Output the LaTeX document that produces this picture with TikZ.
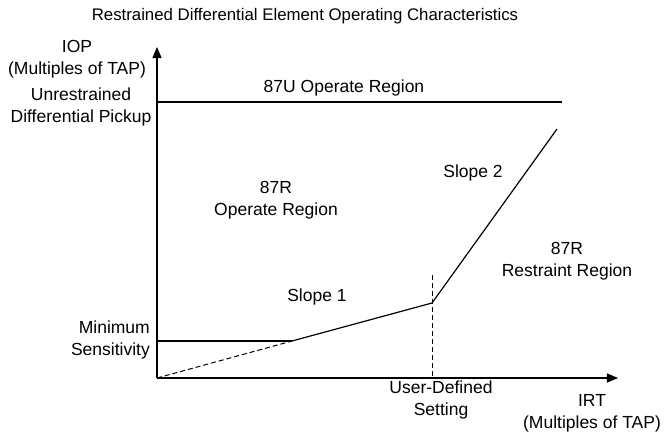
\documentclass[tikz,border=0pt]{standalone}
\usepackage{fontspec}
\setmainfont{Liberation Sans}
\usetikzlibrary{arrows}

\begin{document}
\begin{tikzpicture}[x=1pt,y=-1pt,
every node/.style={font=\fontsize{17.5}{22}\selectfont,
inner sep=0pt,
align=center
},
axis/.style={%
line width=1.6pt,-{triangle 45}
},
curve/.style={%
line width=1.2pt
},
guide/.style={%
line width=1pt,dash pattern=on 5pt off 3pt
}]
\useasboundingbox (0,0) rectangle (664,434);
% axes and break points
\coordinate (orig) at (157,378);
\coordinate (ytip) at (157,47);
\coordinate (xtip) at (618,378);
\coordinate (pu) at (157,102);
\coordinate (puend) at (562,102);
\coordinate (ms) at (157,341);
\coordinate (msend) at (292,341);
\coordinate (knee) at (432,303);
\coordinate (kneetop) at (432,275);
\coordinate (kneebot) at (432,378);
\coordinate (slopeend) at (557,129);
% texts
\node[font=\fontsize{16.8}{20}\selectfont]at(305,16)(title){Restrained Differential Element Operating Characteristics};
\node[]at(77,59)(iop){IOP\\(Multiples of TAP)};
\node[]at(81,107)(pickup){Unrestrained\\Differential Pickup};
\node[anchor=east,align=right]at(150,340)(minsens){Minimum\\Sensitivity};
\node[]at(344,88)(uoperate){87U Operate Region};
\node[]at(276,200)(roperate){87R\\Operate Region};
\node[]at(473,173)(slopetwo){Slope 2};
\node[]at(567,261)(restraint){87R\\Restraint Region};
\node[]at(317,297)(slopeone){Slope 1};
\node[]at(441,400)(userset){User-Defined\\Setting};
\node[]at(592,413)(irt){IRT\\(Multiples of TAP)};
\draw [axis] (orig)--(ytip);
\draw [axis] (orig)--(xtip);
\draw [curve] (pu)--(puend);
\draw [curve] (ms)--(msend);
\draw [guide] (orig)--(msend);
\draw [curve] (msend)--(knee)--(slopeend);
\draw [guide] (kneetop)--(kneebot);
%\draw [curve] (knee)--(kneetop);
\end{tikzpicture}
\end{document}
